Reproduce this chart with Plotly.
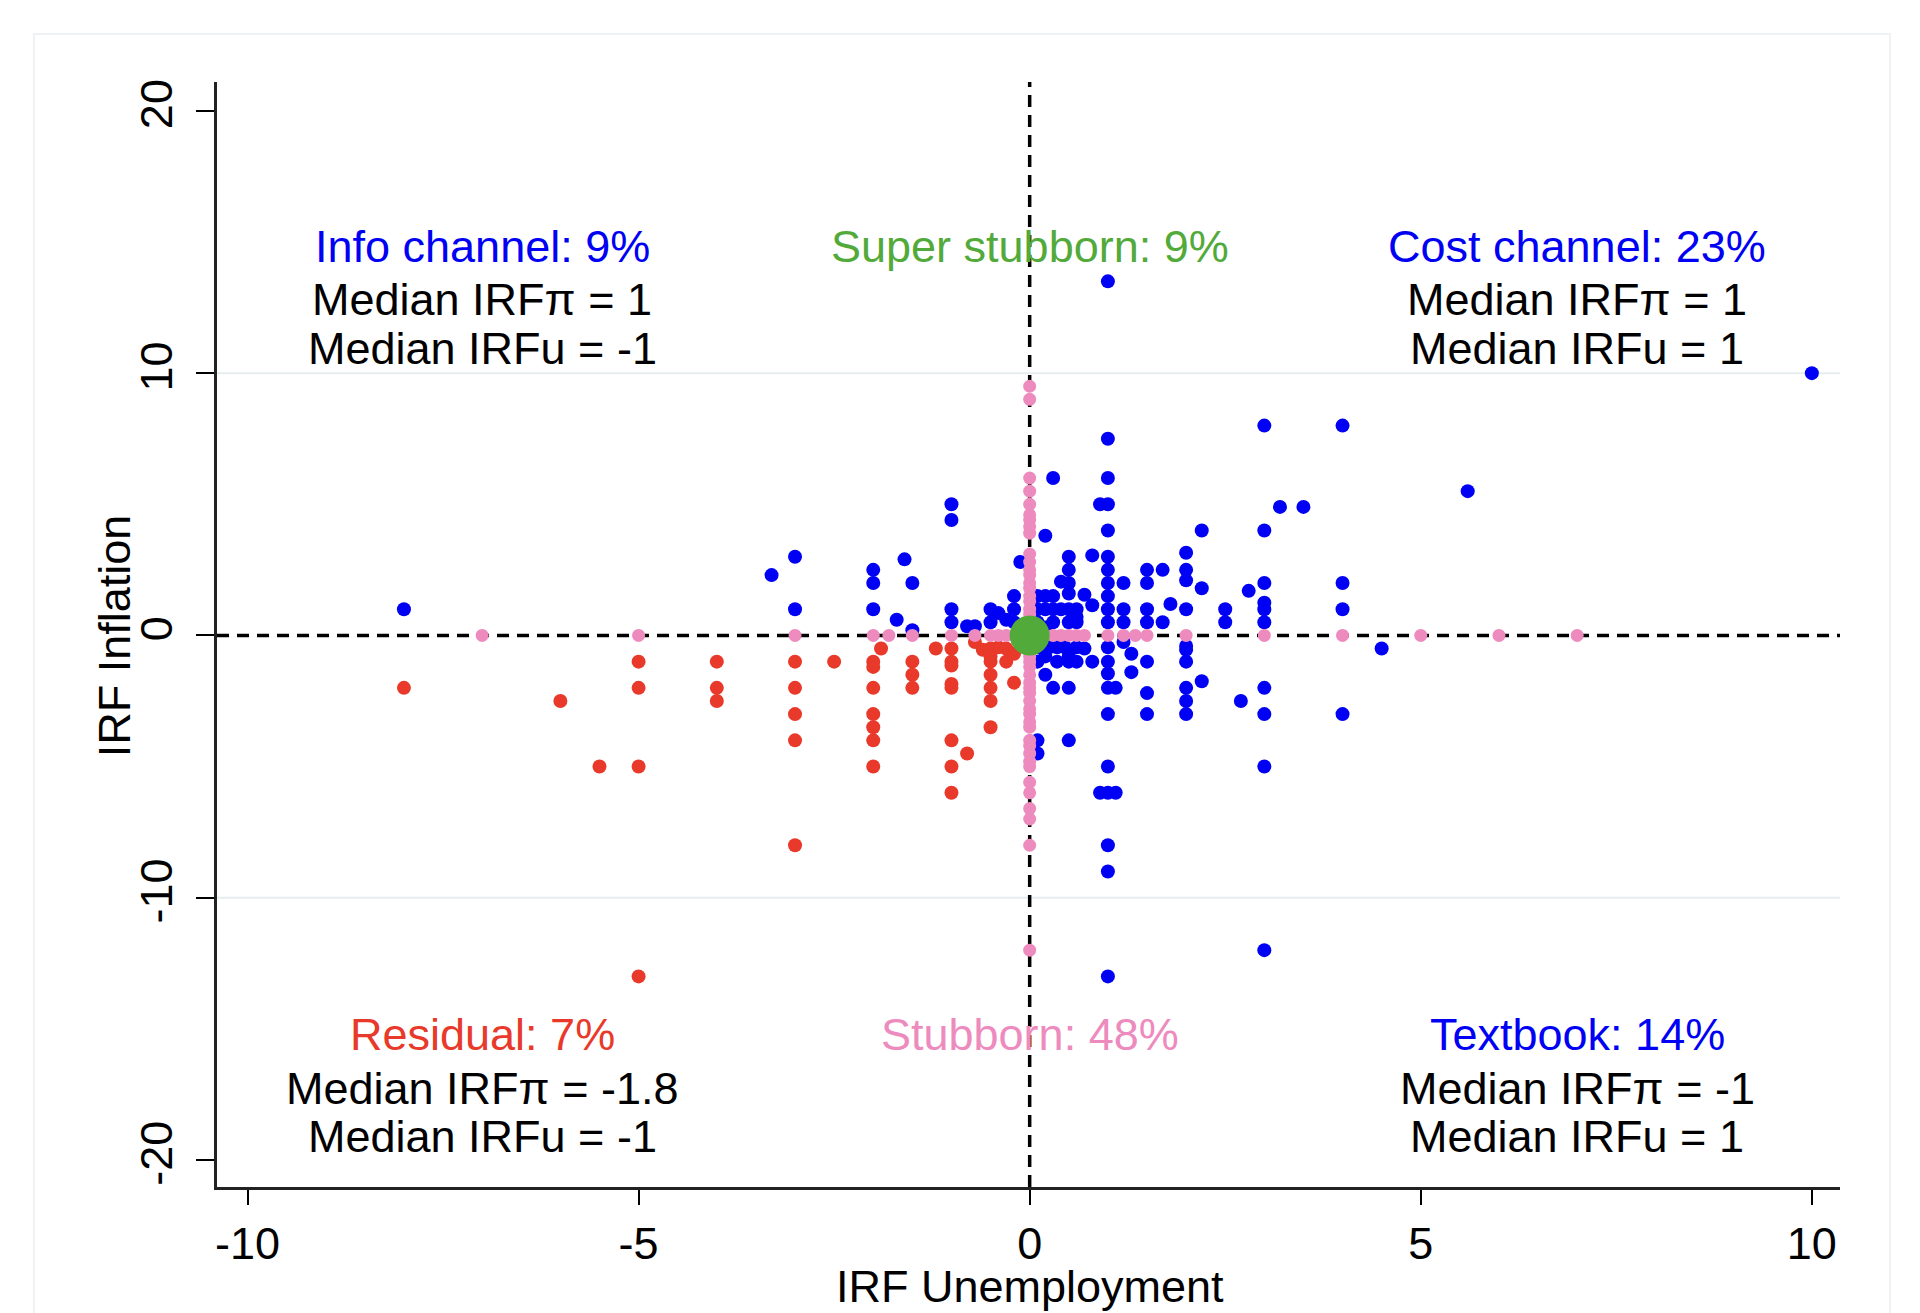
import plotly.graph_objects as go

# IRF Unemployment (u) and IRF Inflation (pi) by respondent group
info_u = [-8, -3.3, -3, -3, -2, -2, -2, -1.7, -1.6, -1.5, -1.5, -1, -1, -1, -1,
          -0.8, -0.7, -0.5, -0.5, -0.4, -0.3, -0.2, -0.2, -0.2, -0.12, -0.1]
info_pi = [1, 2.3, 3, 1, 2.5, 2, 1, 0.6, 2.9, 2, 0.2, 5, 4.4, 1, 0.5,
           0.35, 0.35, 1, 0.5, 0.85, 0.6, 1.5, 1, 0.5, 2.8, 0.3]

cost_u = [10, 1, 3, 4, 1, 0.3, 1, 0.9, 1, 5.6, 3.2, 3.5, 1, 2.2, 3, 0.2, 0.5, 0.8, 1, 2,
          0.5, 1, 1.5, 1.7, 2, 0.4, 0.5, 1, 1.2, 1.5, 2, 3, 4, 2.2, 2.8, 0.5, 0.7, 1,
          0.8, 1.8, 3, 1, 1.2, 1.5, 2, 2.5, 3, 4, 1, 1.2, 1.5, 1.7, 2.5, 3,
          0.1, 0.2, 0.3, 0.1, 0.2, 0.3, 0.4, 0.5, 0.6, 0.1, 0.3, 0.5, 0.6, 0.6, 0.2]
cost_pi = [10, 13.5, 8, 8, 7.5, 6, 6, 5, 5, 5.5, 4.9, 4.9, 4, 4, 4, 3.8, 3, 3.05, 3, 3.15,
           2.5, 2.5, 2.5, 2.5, 2.5, 2.05, 2, 2, 2, 2, 2.1, 2, 2, 1.8, 1.7, 1.6, 1.55, 1.5,
           1.15, 1.2, 1.25, 1, 1, 1, 1, 1, 1, 1, 0.5, 0.5, 0.5, 0.5, 0.5, 0.5,
           1.5, 1.5, 1.5, 1, 1, 1, 1, 1, 1, 0.5, 0.5, 0.5, 0.5, 0.7, 0.3]

textbook_u = [4.5, 4, 3, 3, 3, 3, 2.7, 2, 2, 2, 2, 2, 2, 2.2, 1.5, 1.5, 1.5, 1.3, 1.3,
              1.2, 1, 1, 1, 1, 1.1, 1, 1, 0.9, 1, 1.1, 1, 1, 1, 0.8, 0.5, 0.3, 0.2,
              0.1, 0.35, 0.5, 0.6, 0.1, 0.25, 0.35, 0.45, 0.6, 0.7, 0.5, 0.2, 0.1, 0.1, 0.5]
textbook_pi = [-0.5, -3, -2, -3, -5, -12, -2.5, -0.4, -0.55, -1, -2, -2.5, -3, -1.75, -1, -2.2, -3, -0.7, -1.4,
               -0.25, -0.45, -1, -1.45, -2, -2, -3, -5, -6, -6, -6, -8, -9, -13, -1, -2, -2, -1.5,
               -1, -1, -1, -1, -0.45, -0.45, -0.45, -0.45, -0.45, -0.5, -0.8, -0.8, -4, -4.5, -4]

residual_u = [-8, -6, -5.5, -5, -5, -5, -5, -4, -4, -4, -3, -3, -3, -3, -3, -2.5, -2, -2, -2,
              -2, -2, -2, -2, -1.9, -1.5, -1.5, -1.5, -1.2, -1, -1, -1, -1, -1, -1, -1, -1,
              -0.8, -0.7, -0.6, -0.5, -0.5, -0.5, -0.5, -0.5, -0.5, -0.5, -0.4, -0.3, -0.3,
              -0.2, -0.2]
residual_pi = [-2, -2.5, -5, -1, -2, -5, -13, -1, -2, -2.5, -1, -2, -3, -4, -8, -1, -1, -1.2, -2,
               -3, -3.5, -4, -5, -0.5, -1, -1.5, -2, -0.5, -0.5, -1, -1.15, -1.85, -2, -4, -5, -6,
               -4.5, -0.25, -0.55, -0.5, -0.8, -1, -1.5, -2, -2.5, -3.5, -0.45, -0.5, -1,
               -0.7, -1.8]

stubborn_u = [-7, -5, -3, -2, -1.8, -1.5, -1, -0.7, -0.5, -0.4, -0.3, -0.2, -0.1,
              0.1, 0.2, 0.3, 0.4, 0.5, 0.6, 0.7, 1, 1.2, 1.35, 1.5, 2, 3, 4, 5, 6, 7,
              0, 0, 0, 0, 0, 0, 0, 0, 0, 0, 0, 0, 0, 0, 0, 0, 0, 0, 0, 0, 0, 0, 0,
              0, 0, 0, 0, 0, 0, 0, 0, 0, 0, 0, 0, 0, 0, 0, 0, 0, 0, 0, 0, 0, 0, 0]
stubborn_pi = [0, 0, 0, 0, 0, 0, 0, 0, 0, 0, 0, 0, 0,
               0, 0, 0, 0, 0, 0, 0, 0, 0, 0, 0, 0, 0, 0, 0, 0, 0,
               9.5, 9, 6, 5.5, 5, 4.6, 4.4, 4.15, 3.9, 3.1, 2.8, 2.5, 2.3, 2, 1.8, 1.5, 1.3, 1, 0.8, 0.5, 0.3, -0.3, -0.5,
               -0.8, -1, -1.2, -1.5, -1.8, -2, -2.2, -2.5, -2.8, -3, -3.3, -3.5, -4, -4.5, -5, -5.6, -6, -6.6, -7, -8, -12, -4.2, -4.8]

super_u = [0]
super_pi = [0]

x_ticks = [-10, -5, 0, 5, 10]
x_ticklabels = ["-10", "-5", "0", "5", "10"]
y_ticks = [-20, -10, 0, 10, 20]
y_ticklabels = ["-20", "-10", "0", "10", "20"]

BLUE = "#0000F4"
RED = "#E8392A"
PINK = "#EE8BBE"
GREEN = "#52AA3A"
FONT = "Liberation Sans, Arial, Helvetica, sans-serif"
FS = 45

fig = go.Figure()


def dots(u, pi, color, size):
    fig.add_trace(go.Scatter(x=u, y=pi, mode="markers", hoverinfo="skip",
                             marker=dict(color=color, size=size, line=dict(width=0))))


dots(residual_u, residual_pi, RED, 14)
dots(info_u, info_pi, BLUE, 14)
dots(cost_u, cost_pi, BLUE, 14)
dots(textbook_u, textbook_pi, BLUE, 14)
dots(stubborn_u, stubborn_pi, PINK, 13)
dots(super_u, super_pi, GREEN, 40)

# light grid lines at +/-10
for gy in (10, -10):
    fig.add_shape(type="line", xref="paper", x0=0, x1=1, yref="y", y0=gy, y1=gy,
                  line=dict(color="#E6EDEF", width=2), layer="below")
# dashed reference lines through the origin
fig.add_shape(type="line", xref="paper", x0=0, x1=1, yref="y", y0=0, y1=0,
              line=dict(color="black", width=3.5, dash="12px,8px"), layer="below")
fig.add_shape(type="line", xref="x", x0=0, x1=0, yref="paper", y0=0, y1=1,
              line=dict(color="black", width=3.5, dash="12px,8px"), layer="below")
# faint outer frame of the graph region
fig.add_shape(type="rect", xref="paper", yref="paper", x0=-0.1128, x1=1.0308, y0=-0.2, y1=1.0434,
              line=dict(color="#EEF2F4", width=2), fillcolor="rgba(0,0,0,0)", layer="below")

blocks = [
    (-7, 14.84, "Info channel: 9%", BLUE, ["Median IRF\u03c0 = 1", "Median IRFu = -1"]),
    (0, 14.84, "Super stubborn: 9%", GREEN, []),
    (7, 14.84, "Cost channel: 23%", BLUE, ["Median IRF\u03c0 = 1", "Median IRFu = 1"]),
    (-7, -15.22, "Residual: 7%", RED, ["Median IRF\u03c0 = -1.8", "Median IRFu = -1"]),
    (0, -15.22, "Stubborn: 48%", PINK, []),
    (7, -15.22, "Textbook: 14%", BLUE, ["Median IRF\u03c0 = -1", "Median IRFu = 1"]),
]
for bx, by, title, col, lines in blocks:
    fig.add_annotation(x=bx, y=by, text=title, showarrow=False,
                       font=dict(family=FONT, size=FS, color=col), xanchor="center", yanchor="middle")
    for i, ln in enumerate(lines):
        fig.add_annotation(x=bx, y=by - 2.05 - 1.85 * i, text=ln, showarrow=False,
                           font=dict(family=FONT, size=FS, color="black"),
                           xanchor="center", yanchor="middle")

fig.add_annotation(x=0, xref="x", y=-0.0896, yref="paper", text="IRF Unemployment",
                   showarrow=False, font=dict(family=FONT, size=FS, color="black"),
                   xanchor="center", yanchor="middle", borderpad=0)
fig.add_annotation(x=-0.0635, xref="paper", y=0, yref="y", text="IRF Inflation", textangle=-90,
                   showarrow=False, font=dict(family=FONT, size=FS, color="black"),
                   xanchor="center", yanchor="middle")

fig.update_layout(
    width=1920, height=1313,
    margin=dict(l=217, r=80, t=82, b=126),
    paper_bgcolor="white", plot_bgcolor="white",
    showlegend=False,
    xaxis=dict(range=[-10.39, 10.36], tickvals=x_ticks, ticktext=x_ticklabels, ticks="outside",
               ticklen=15, tickwidth=2, tickcolor="black", showgrid=False, zeroline=False,
               showline=True, linecolor="#222", linewidth=3,
               tickfont=dict(family=FONT, size=FS, color="black"), ticklabelstandoff=0),
    yaxis=dict(range=[-21.03, 21.1], tickvals=y_ticks, ticktext=y_ticklabels, ticks="outside",
               ticklen=18, tickwidth=2, tickcolor="black", showgrid=False, zeroline=False,
               showline=True, linecolor="#222", linewidth=3, tickangle=-90,
               tickfont=dict(family=FONT, size=FS, color="black"), ticklabelstandoff=6),
)

fig.write_html("out.html")
